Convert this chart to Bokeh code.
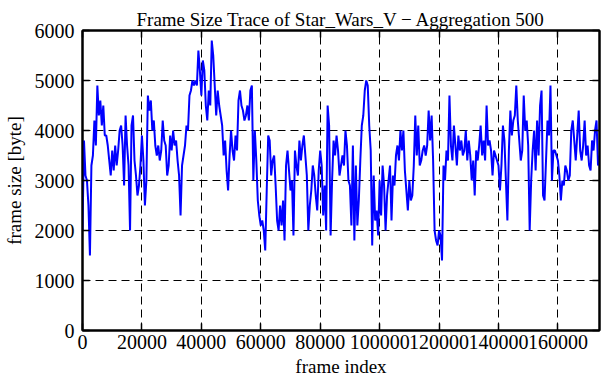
from bokeh.plotting import figure
from bokeh.models import LinearAxis, FixedTicker, CustomJSTickFormatter, Range1d, BasicTickFormatter
from bokeh.embed import file_html
from bokeh.resources import INLINE

title_text = "Frame Size Trace of Star_Wars_V \u2212 Aggregation 500"
x_label = "frame index"
y_label = "frame size [byte]"
aggregation = 500
x_ticks = [0, 20000, 40000, 60000, 80000, 100000, 120000, 140000, 160000]
y_ticks = [0, 1000, 2000, 3000, 4000, 5000, 6000]
x_max = 174000
y_max = 6000

frame_size = [
    2000, 3800, 3100, 3000, 2500, 1500, 3300, 3500, 4200, 3700,
    4900, 4300, 4600, 4100, 4500, 3900, 3900, 3700, 3400, 3100,
    3600, 3200, 3700, 3300, 3600, 4000, 4100, 3700, 2900, 4300,
    3700, 3300, 2000, 4100, 4300, 3400, 3100, 2700, 2900, 3300,
    3900, 3400, 2500, 3000, 4700, 4400, 4600, 4000, 4200, 3700,
    3500, 3700, 3400, 3600, 4200, 3800, 3700, 3100,
    3300, 3900, 3600, 4000, 3700, 3800, 3400, 3100, 2300, 3300,
    3500, 3700, 4100, 4000, 4700, 4800, 5000, 4900, 5000, 4900,
    5600, 5200, 4700, 5400, 5200, 4500, 4200, 4800, 4500, 5800,
    5500, 4900, 4300, 4800, 4500, 4300, 4100, 3500, 3800, 3200,
    2800, 3500, 4000, 3600, 3400, 3900, 3600, 4600, 4800, 4500,
    4400, 4200, 4300, 4500, 4200, 4800, 4900, 3000,
    4000, 3400, 2600, 2300, 2100, 2200, 2000, 1600, 2800, 3900,
    3800, 3100, 3400, 3500, 2900, 2200, 2000, 2500, 2100, 2600,
    1800, 3300, 3600, 3200, 2800, 3000, 1900, 3600, 3300, 3100,
    3800, 3400, 3700, 3900, 3500, 3100, 2000, 2500, 2800, 3300,
    3100, 2700, 2400, 3200, 3600, 3300, 2300, 2900, 2000, 4500,
    4100, 1900, 3000, 3800, 3500, 3900, 3600, 3100,
    3300, 3500, 3300, 4000, 3700, 3000, 2900, 2100, 3700, 1800,
    3300, 2100, 2600, 3400, 4100, 4300, 4800, 5000, 4900, 4100,
    3600, 1700, 3100, 2200, 2400, 1900, 3000, 2300, 3300, 2900,
    2000, 2700, 3000, 3300, 2200, 3100, 2900, 3500, 3700, 3400,
    4000, 3600, 4000, 3200, 2800, 2400, 3000, 2600, 2700, 3300,
    4300, 3500, 4100, 3300, 3400, 3600, 3700, 3500,
    3700, 4400, 3800, 4300, 3400, 2000, 1800, 1700, 2000, 1900,
    1400, 3300, 3000, 3600, 3400, 4700, 3700, 3400, 4100, 3700,
    3300, 3900, 3600, 3800, 3500, 3600, 4000, 3400, 3800, 3500,
    3000, 3400, 2700, 3600, 3400, 3700, 4100, 3500, 3800, 3400,
    4500, 3700, 3800, 3600, 3100, 3600, 3500, 3400, 3300, 2800,
    3300, 4100, 3800, 3000, 2200, 3600, 4400, 3900,
    4200, 4300, 4900, 4200, 3800, 3400, 3600, 4700, 4000, 4200,
    3700, 2000, 3000, 3600, 4000, 3200, 4200, 3500, 4500, 4800,
    2700, 2600, 3400, 4200, 3900, 4900, 3000, 3600, 3600, 3500,
    3400, 3100, 2600, 3000, 2900, 3300, 3200, 3000, 3100, 4000,
    4200, 3800, 3400, 3900, 4400, 3600, 3400, 3700, 4200, 3500,
    3700, 3300, 3200, 3800, 3600, 4000, 4200, 3300, 3500,
]
frame_index = [i * aggregation for i in range(len(frame_size))]

FONT = "Liberation Serif"

p = figure(width=602, height=380, output_backend="svg", toolbar_location=None,
           x_range=Range1d(0, x_max), y_range=Range1d(0, y_max),
           min_border_left=82, min_border_right=3, min_border_top=30,
           min_border_bottom=50, title=title_text,
           background_fill_color="white", border_fill_color="white")

p.title.align = "center"
p.title.text_font = FONT
p.title.text_font_size = "19px"
p.title.text_font_style = "normal"
p.title.text_color = "black"
p.title.standoff = 2
p.title.offset = 0

p.outline_line_color = "black"
p.outline_line_width = 2
p.outline_line_alpha = 1

for ax in [p.xaxis[0], p.yaxis[0]]:
    ax.major_tick_in = 7
    ax.major_tick_out = 0
    ax.minor_tick_in = 0
    ax.minor_tick_out = 0
    ax.major_tick_line_width = 1.5
    ax.major_tick_line_color = "black"
    ax.axis_line_color = "black"
    ax.axis_line_width = 2
    ax.major_label_text_font = FONT
    ax.major_label_text_font_size = "20px"
    ax.major_label_text_color = "black"
    ax.axis_label_text_font = FONT
    ax.axis_label_text_font_size = "19px"
    ax.axis_label_text_font_style = "normal"
    ax.axis_label_text_color = "black"

p.xaxis.ticker = FixedTicker(ticks=x_ticks)
p.yaxis.ticker = FixedTicker(ticks=y_ticks)
p.xaxis.formatter = BasicTickFormatter(use_scientific=False)
p.yaxis.formatter = BasicTickFormatter(use_scientific=False)
p.xaxis.axis_label = x_label
p.yaxis.axis_label = y_label
p.xaxis.major_label_standoff = 4
p.yaxis.major_label_standoff = 8
p.xaxis.axis_label_standoff = 4
p.yaxis.axis_label_standoff = 7

for g, t in [(p.xgrid[0], x_ticks), (p.ygrid[0], y_ticks)]:
    g.ticker = FixedTicker(ticks=t)
    g.grid_line_color = "black"
    g.grid_line_dash = "8 5"
    g.grid_line_width = 1
    g.grid_line_alpha = 1

empty = CustomJSTickFormatter(code="return ''")
right = LinearAxis(ticker=FixedTicker(ticks=y_ticks), formatter=empty,
                   major_tick_in=7, major_tick_out=0, minor_tick_in=0, minor_tick_out=0,
                   major_label_standoff=0, major_tick_line_width=1.5,
                   axis_line_width=2, major_label_text_font_size="1px")
top = LinearAxis(ticker=FixedTicker(ticks=x_ticks), formatter=empty,
                 major_tick_in=7, major_tick_out=0, minor_tick_in=0, minor_tick_out=0,
                 major_label_standoff=0, major_tick_line_width=1.5,
                 axis_line_width=2, major_label_text_font_size="1px")
p.add_layout(right, "right")
p.add_layout(top, "above")

p.line(frame_index, frame_size, line_color="#0000ff", line_width=2)

open("out.html", "w").write(file_html(p, INLINE))
